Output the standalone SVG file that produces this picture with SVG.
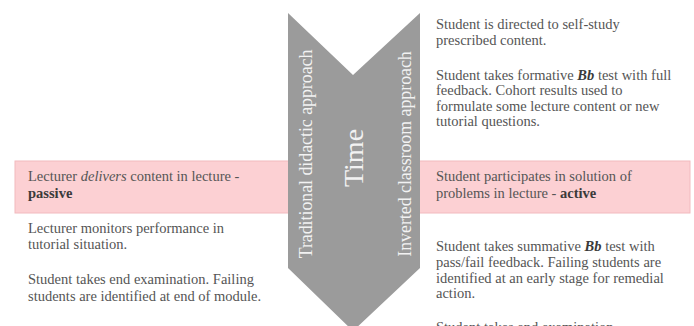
<svg xmlns="http://www.w3.org/2000/svg" width="694" height="326" viewBox="0 0 694 326">
  <style>
    .body { font-family: "Liberation Serif", "Times New Roman", serif; font-size: 14.5px; fill: #555555; }
    .strong { font-weight: bold; fill: #3a3a3a; }
    .em { font-style: italic; }
    .band { fill: #fcd0d3; stroke: #f2babe; stroke-width: 1; }
    .arrow { fill: #9b9b9b; }
    .side { font-family: "Liberation Serif", "Times New Roman", serif; font-size: 17.8px; fill: #f2f2f2; text-anchor: middle; }
    .title { font-family: "Liberation Serif", "Times New Roman", serif; font-size: 28px; fill: #f2f2f2; text-anchor: middle; }
  </style>

  <rect width="694" height="326" fill="#ffffff"/>

  <!-- highlighted lecture rows -->
  <g id="band-left">
    <rect class="band" x="15" y="161" width="274" height="52"/>
  </g>
  <g id="band-right">
    <rect class="band" x="419" y="161" width="271" height="52"/>
  </g>

  <!-- time chevron -->
  <g id="time-arrow">
    <polygon class="arrow" points="288,13 353,75 420,13 420,268 353,331 288,268"/>
    <text class="side" transform="translate(312,154) rotate(-90)">Traditional didactic approach</text>
    <text class="title" transform="translate(363,158) rotate(-90)">Time</text>
    <text class="side" transform="translate(411,154) rotate(-90)">Inverted classroom approach</text>
  </g>

  <!-- traditional approach column -->
  <g id="trad-lecture">
    <text class="body" x="28" y="181">Lecturer <tspan class="em">delivers</tspan> content in lecture -</text>
    <text class="body strong" x="28" y="197.5">passive</text>
  </g>
  <g id="trad-tutorial">
    <text class="body" x="28" y="232.5">Lecturer monitors performance in</text>
    <text class="body" x="28" y="249">tutorial situation.</text>
  </g>
  <g id="trad-exam">
    <text class="body" x="28" y="284">Student takes end examination. Failing</text>
    <text class="body" x="28" y="300.5">students are identified at end of module.</text>
  </g>

  <!-- inverted approach column -->
  <g id="inv-selfstudy">
    <text class="body" x="436" y="28.5">Student is directed to self-study</text>
    <text class="body" x="436" y="45">prescribed content.</text>
  </g>
  <g id="inv-formative">
    <text class="body" x="436" y="79.5">Student takes formative <tspan class="strong em">Bb</tspan> test with full</text>
    <text class="body" x="436" y="95">feedback. Cohort results used to</text>
    <text class="body" x="436" y="110.5">formulate some lecture content or new</text>
    <text class="body" x="436" y="126">tutorial questions.</text>
  </g>
  <g id="inv-lecture">
    <text class="body" x="436" y="181">Student participates in solution of</text>
    <text class="body" x="436" y="197.5">problems in lecture - <tspan class="strong">active</tspan></text>
  </g>
  <g id="inv-summative">
    <text class="body" x="436" y="251">Student takes summative <tspan class="strong em">Bb</tspan> test with</text>
    <text class="body" x="436" y="266.8">pass/fail feedback. Failing students are</text>
    <text class="body" x="436" y="282.6">identified at an early stage for remedial</text>
    <text class="body" x="436" y="298.4">action.</text>
  </g>
  <g id="inv-exam">
    <text class="body" x="436" y="331.5">Student takes end examination.</text>
  </g>
</svg>
